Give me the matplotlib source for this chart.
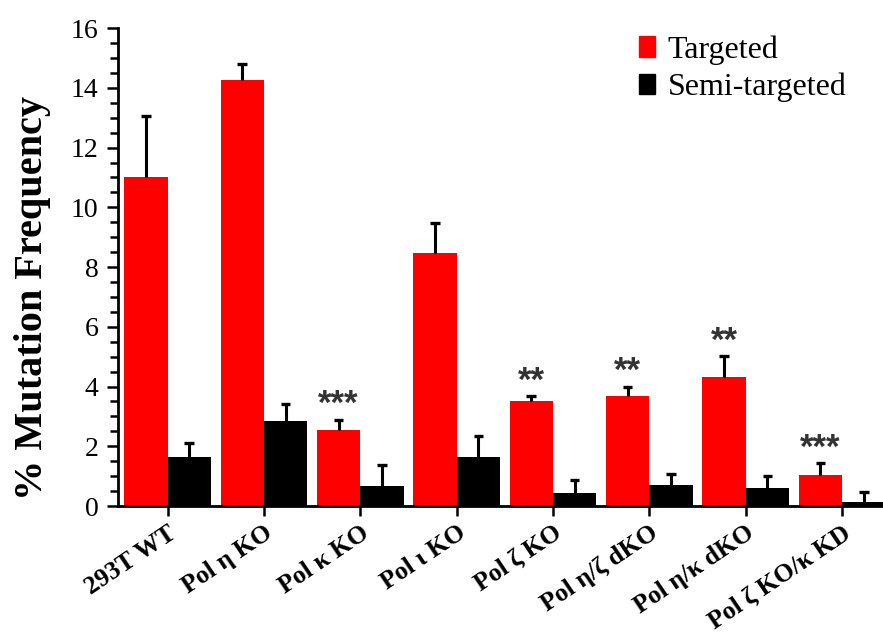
import matplotlib
matplotlib.use('Agg')
import matplotlib.pyplot as plt
import numpy as np
from matplotlib.ticker import MultipleLocator
from matplotlib.patches import Patch

# groups on the x axis
groups = ["293T WT", "Pol η KO", "Pol κ KO", "Pol ι KO", "Pol ζ KO",
          "Pol η/ζ dKO", "Pol η/κ dKO", "Pol ζ KO/κ KD"]

# mean % mutation frequency and error (upper only)
targeted = [11.0, 14.26, 2.54, 8.46, 3.51, 3.70, 4.32, 1.04]
targeted_err = [2.05, 0.54, 0.35, 1.03, 0.17, 0.30, 0.70, 0.39]
semi = [1.64, 2.85, 0.68, 1.65, 0.42, 0.69, 0.59, 0.12]
semi_err = [0.47, 0.56, 0.69, 0.69, 0.45, 0.38, 0.40, 0.36]
stars = ["", "", "***", "", "**", "**", "**", "***"]

plt.rcParams['font.family'] = 'Liberation Serif'

fig = plt.figure(figsize=(8.83, 6.33), dpi=100)
ax = fig.add_axes([0.1336, 0.2006, 0.8664, 0.755])

x = np.arange(len(groups))
w = 0.45
cap = 0.05
ax.bar(x - w / 2, targeted, w, color='#ff0000', zorder=2)
ax.bar(x + w / 2, semi, w, color='black', zorder=2)

# upper-only error bars (no cap on the bar top)
for xs, vals, errs in [(x - w / 2, targeted, targeted_err), (x + w / 2, semi, semi_err)]:
    tops = np.array(vals) + np.array(errs)
    ax.vlines(xs, vals, tops, color='black', lw=2.2, zorder=3)
    ax.hlines(tops, xs - cap, xs + cap, color='black', lw=2.4, zorder=3)

# significance stars above targeted bars
for i in range(len(groups)):
    if stars[i]:
        ax.text(x[i] - w / 2, targeted[i] + targeted_err[i] - 0.05, stars[i],
                ha='center', va='bottom', fontsize=25, family='Liberation Sans',
                fontweight='bold', color='#333333')

ax.set_xlim(-0.515, 7.425)
ax.set_ylim(0, 16)
ax.yaxis.set_major_locator(MultipleLocator(2))
ax.yaxis.set_minor_locator(MultipleLocator(0.5))
ax.tick_params(axis='y', which='major', length=8, width=1.8, labelsize=20, pad=6)
ax.tick_params(axis='y', which='minor', length=6, width=1.8)
ax.tick_params(axis='x', length=7, width=1.8, pad=4)
ax.set_xticks(x)
ax.set_xticklabels(groups, rotation=34, ha='right', rotation_mode='anchor',
                   fontsize=18.5, fontweight='bold')

ax.spines['top'].set_visible(False)
ax.spines['right'].set_visible(False)
ax.spines['left'].set_linewidth(2)
ax.spines['bottom'].set_linewidth(2)

ax.set_ylabel('% Mutation Frequency', fontsize=29, fontweight='bold')
ax.yaxis.set_label_coords(-0.088, 0.435)

handles = [Patch(color='#ff0000'), Patch(color='black')]
ax.legend(handles, ['Targeted', 'Semi-targeted'], loc='upper right',
          bbox_to_anchor=(0.99, 1.045), frameon=False, fontsize=23,
          handlelength=0.5, handleheight=0.6, handletextpad=0.4, labelspacing=0.25)

plt.savefig('out.png', dpi=100)
